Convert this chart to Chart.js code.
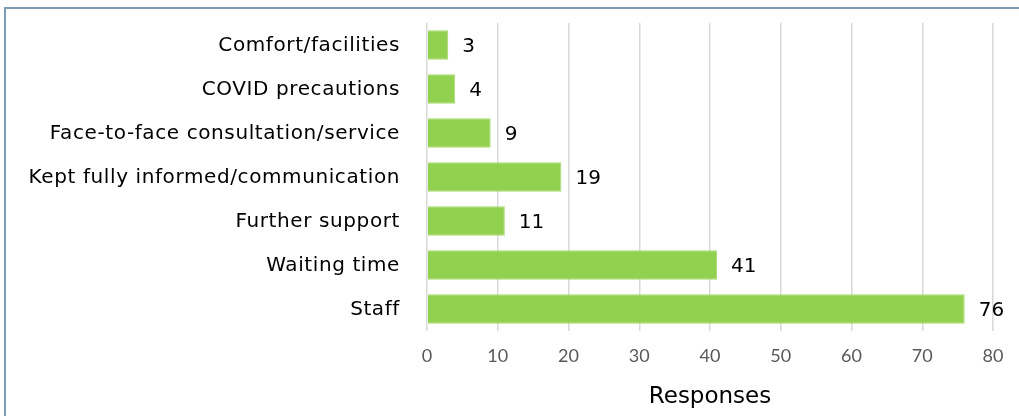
<!DOCTYPE html>
<html>
<head>
<meta charset="utf-8">
<script src="https://cdn.jsdelivr.net/npm/chart.js@4/dist/chart.umd.min.js"></script>
<style>
  html, body { margin: 0; padding: 0; background: #fff; }
  #frame { position: absolute; left: 4px; top: 7px; width: 1100px; height: 500px;
           border-left: 2px solid #7b9bb6; border-top: 2px solid #7b9bb6; }
  #wrap { position: absolute; left: 0; top: 0; width: 1019px; height: 416px; }
</style>
</head>
<body>
<div id="frame"></div>
<div id="wrap"><canvas id="c" width="1019" height="416"></canvas></div>
<script>
const categories = [
  "Comfort/facilities",
  "COVID precautions",
  "Face-to-face consultation/service",
  "Kept fully informed/communication",
  "Further support",
  "Waiting time",
  "Staff"
];
const responses = [3, 4, 9, 19, 11, 41, 76];
const xTicks = [0, 10, 20, 30, 40, 50, 60, 70, 80];
const axisTitle = "Responses";

const labelFont = '"DejaVu Sans", sans-serif';

// draws category labels (with slight letter spacing) and value labels
const textLabels = {
  id: 'textLabels',
  afterDatasetsDraw(chart) {
    const ctx = chart.ctx;
    const yScale = chart.scales.y;
    const meta = chart.getDatasetMeta(0);
    ctx.save();
    ctx.fillStyle = '#000';
    ctx.textBaseline = 'middle';
    // category labels
    ctx.font = '20px ' + labelFont;
    if ('letterSpacing' in ctx) ctx.letterSpacing = '0.6px';
    ctx.textAlign = 'right';
    chart.data.labels.forEach((lab, i) => {
      ctx.fillText(lab, yScale.right - 27, yScale.getPixelForTick(i) + 1);
    });
    if ('letterSpacing' in ctx) ctx.letterSpacing = '0px';
    // value labels
    ctx.font = '20px ' + labelFont;
    ctx.textAlign = 'left';
    meta.data.forEach((bar, i) => {
      ctx.fillText(String(chart.data.datasets[0].data[i]), bar.x + 14, bar.y + 2);
    });
    ctx.restore();
  }
};

new Chart(document.getElementById('c'), {
  type: 'bar',
  data: {
    labels: categories,
    datasets: [{
      data: responses,
      backgroundColor: '#92d050',
      borderColor: '#a6dc6e',
      borderWidth: 1,
      barPercentage: 0.67,
      categoryPercentage: 1.0
    }]
  },
  options: {
    indexAxis: 'y',
    responsive: false,
    animation: false,
    layout: { padding: { left: 0, right: 26, top: 23, bottom: 0 } },
    plugins: { legend: { display: false }, tooltip: { enabled: false } },
    scales: {
      x: {
        min: 0, max: 80,
        afterBuildTicks(scale) { scale.ticks = xTicks.map(v => ({ value: v })); },
        grid: { color: '#d9d9d9', lineWidth: 1.5, drawTicks: false },
        border: { display: false },
        ticks: { color: '#595959', font: { family: '"Lato", sans-serif', size: 18 }, padding: 14 },
        title: { display: true, text: axisTitle, color: '#000',
                 font: { family: labelFont, size: 23 }, padding: { top: 4, bottom: 5 } },
        afterFit(scale) { scale.height = 85; scale.paddingLeft = 0; scale.paddingRight = 0; }
      },
      y: {
        grid: { display: false, drawTicks: false },
        border: { display: false },
        ticks: { display: false },
        afterFit(scale) { scale.width = 427; scale.paddingTop = 0; scale.paddingBottom = 0; }
      }
    }
  },
  plugins: [textLabels]
});
</script>
</body>
</html>
